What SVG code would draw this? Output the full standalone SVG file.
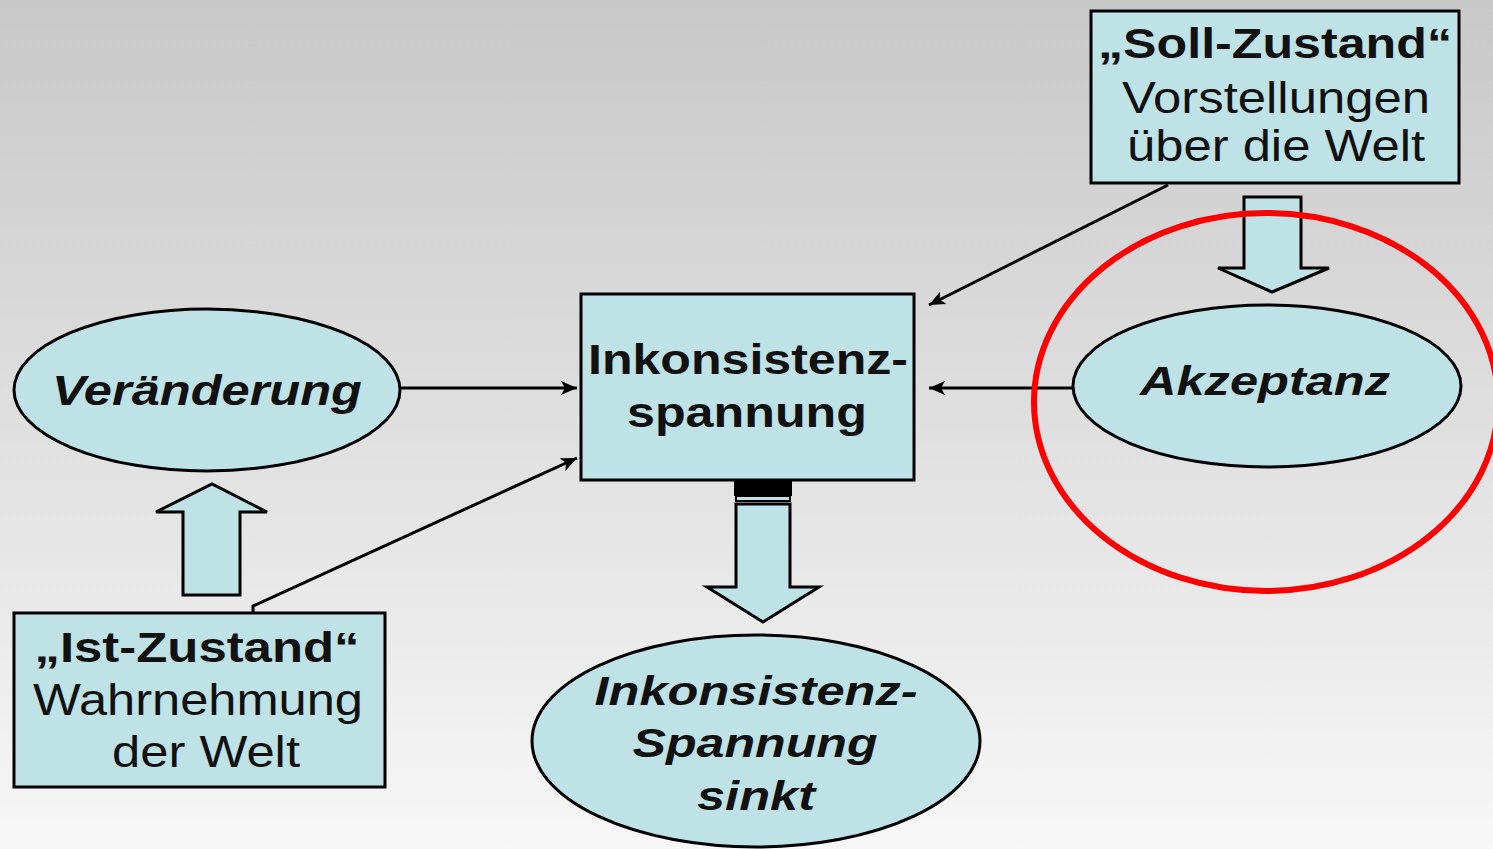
<svg xmlns="http://www.w3.org/2000/svg" width="1493" height="849" viewBox="0 0 1493 849">
<defs>
<linearGradient id="bg" x1="0" y1="0" x2="0" y2="1">
<stop offset="0" stop-color="#c8c8c8"/>
<stop offset="0.45" stop-color="#dddddd"/>
<stop offset="1" stop-color="#f7f7f7"/>
</linearGradient>
<marker id="ah" markerUnits="userSpaceOnUse" markerWidth="18" markerHeight="14" refX="16" refY="7" orient="auto">
<path d="M0,0 L16,7 L0,14 L4,7 z" fill="#000"/>
</marker>
<style>
.shape{fill:#bee2e6;stroke:#000;stroke-width:3}
.t{font-family:"Liberation Sans",Arial,sans-serif;fill:#111;text-anchor:middle}
.b{font-weight:bold}
.i{font-style:italic}
.con{stroke:#000;stroke-width:3;fill:none;marker-end:url(#ah)}
</style>
</defs>
<rect x="0" y="0" width="1493" height="849" fill="url(#bg)"/>

<g id="connectors">
<line class="con" x1="400" y1="388" x2="577" y2="388"/>
<line class="con" x1="1073" y1="388" x2="929" y2="388"/>
<line class="con" x1="1168" y1="185" x2="929" y2="305"/>
<polyline class="con" points="253,612 253,606 577,458"/>
<path class="shape" d="M183,595 L240,595 L240,512 L267,512 L212,484 L156,512 L183,512 z"/>
<path class="shape" d="M1244,197 L1301,197 L1301,268 L1329,268 L1272,292 L1218,268 L1244,268 z"/>
<rect x="734" y="481" width="58" height="15" fill="#000"/>
<rect x="736" y="496" width="54" height="5" fill="#bee2e6" stroke="#000" stroke-width="2"/>
<path class="shape" d="M736,504 L790,504 L790,587 L819,587 L763,622 L707,587 L736,587 z"/>
</g>

<g id="soll">
<rect class="shape" x="1091" y="11" width="368" height="172"/>
<text class="t b" x="1275" y="58" font-size="42" textLength="354" lengthAdjust="spacingAndGlyphs">„Soll-Zustand“</text>
<text class="t" x="1276" y="113" font-size="44" textLength="308" lengthAdjust="spacingAndGlyphs">Vorstellungen</text>
<text class="t" x="1276" y="161" font-size="44" textLength="298" lengthAdjust="spacingAndGlyphs">über die Welt</text>
</g>

<g id="veraenderung">
<ellipse class="shape" cx="207" cy="390" rx="193" ry="81"/>
<text class="t b i" x="207" y="405" font-size="42" textLength="310" lengthAdjust="spacingAndGlyphs">Veränderung</text>
</g>

<g id="inkonsistenzspannung">
<rect class="shape" x="581" y="294" width="333" height="186"/>
<text class="t b" x="748" y="374" font-size="43" textLength="320" lengthAdjust="spacingAndGlyphs">Inkonsistenz-</text>
<text class="t b" x="747" y="427" font-size="43" textLength="240" lengthAdjust="spacingAndGlyphs">spannung</text>
</g>

<g id="akzeptanz">
<ellipse class="shape" cx="1267" cy="386" rx="194" ry="81"/>
<text class="t b i" x="1265" y="395" font-size="41" textLength="250" lengthAdjust="spacingAndGlyphs">Akzeptanz</text>
</g>

<g id="ist">
<rect class="shape" x="14" y="613" width="371" height="174"/>
<text class="t b" x="197" y="662" font-size="42" textLength="325" lengthAdjust="spacingAndGlyphs">„Ist-Zustand“</text>
<text class="t" x="198" y="715" font-size="44" textLength="330" lengthAdjust="spacingAndGlyphs">Wahrnehmung</text>
<text class="t" x="206" y="767" font-size="44" textLength="188" lengthAdjust="spacingAndGlyphs">der Welt</text>
</g>

<g id="sinkt">
<ellipse class="shape" cx="756" cy="741" rx="224" ry="106"/>
<text class="t b i" x="756" y="705" font-size="41" textLength="323" lengthAdjust="spacingAndGlyphs">Inkonsistenz-</text>
<text class="t b i" x="755" y="757" font-size="41" textLength="245" lengthAdjust="spacingAndGlyphs">Spannung</text>
<text class="t b i" x="756" y="810" font-size="41" textLength="118" lengthAdjust="spacingAndGlyphs">sinkt</text>
</g>

<g id="highlight">
<ellipse cx="1266" cy="402" rx="232" ry="189" fill="none" stroke="#ff0000" stroke-width="6"/>
</g>
</svg>
